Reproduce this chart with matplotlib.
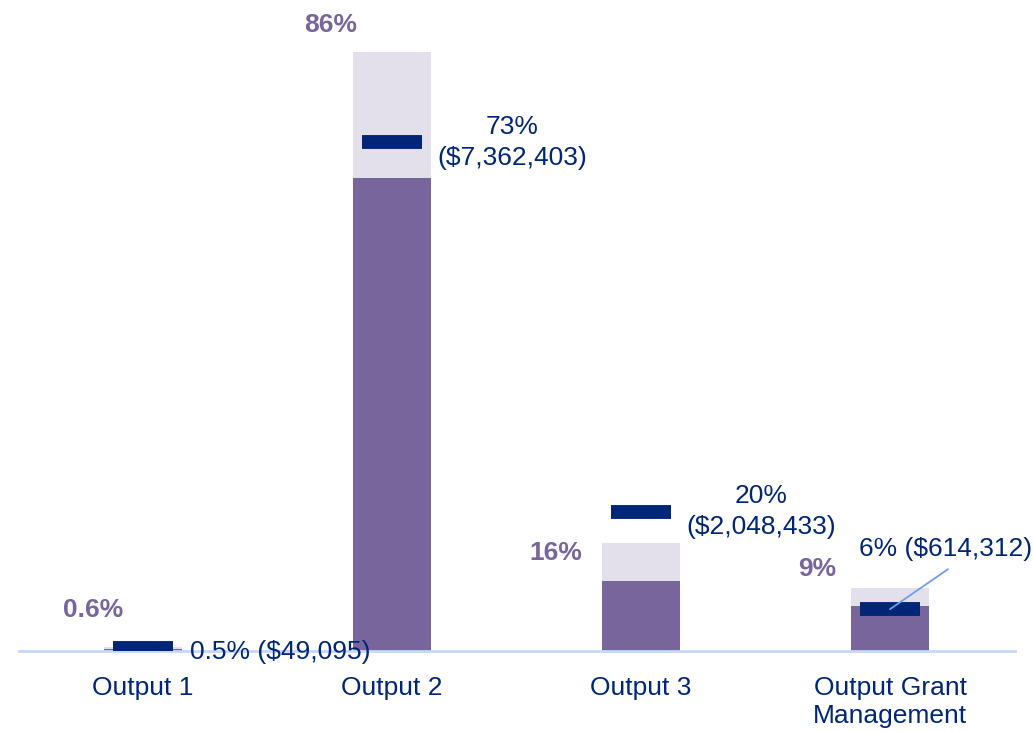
import matplotlib
matplotlib.use("Agg")
import matplotlib.pyplot as plt

plt.rcParams['font.family'] = ['Liberation Sans', 'DejaVu Sans']

# data
categories = ['Output 1', 'Output 2', 'Output 3', 'Output Grant\nManagement']
total_pct = [0.6, 86, 15.5, 9.1]      # light bar, purple bold label
spent_pct = [0.3, 67.9, 10.1, 6.5]    # purple bar
target_pct = [0.5, 73, 20, 6]         # navy marker
total_labels = ['0.6%', '86%', '16%', '9%']
target_labels = ['0.5% ($49,095)', '73%\n($7,362,403)', '20%\n($2,048,433)', '6% ($614,312)']

purple = '#77659c'
light = '#e3e0ec'
navy = '#002677'

fig = plt.figure(figsize=(10.33, 7.31), dpi=100)
ax = fig.add_axes([18.5 / 1033, 80 / 731, 996 / 1033, 651 / 731])

x = list(range(len(categories)))
ax.bar(x, total_pct, width=0.313, color=light, zorder=1)
ax.bar(x, spent_pct, width=0.313, color=purple, zorder=2)
# target markers as short thick horizontal bars
ax.hlines(target_pct, [i - 0.12 for i in x], [i + 0.12 for i in x],
          color=navy, linewidth=10, zorder=4)

ax.set_xlim(-0.5, 3.5)
ax.set_ylim(0, 651 / 6.97)

# purple total labels (offsets in pixels)
total_off = [(-50, 37), (-61, 27), (-85, -10), (-73, 19)]
for i in x:
    ax.annotate(total_labels[i], (i, total_pct[i]), xytext=total_off[i],
                textcoords='offset pixels', ha='center', va='center',
                color=purple, fontsize=19, fontweight='bold')

# navy target labels
ax.annotate(target_labels[0], (0, target_pct[0]), xytext=(47, -4),
            textcoords='offset pixels', ha='left', va='center',
            color=navy, fontsize=19)
ax.annotate(target_labels[1], (1, target_pct[1]), xytext=(120, 0),
            textcoords='offset pixels', ha='center', va='center',
            color=navy, fontsize=19, linespacing=1.35)
ax.annotate(target_labels[2], (2, target_pct[2]), xytext=(120, 0),
            textcoords='offset pixels', ha='center', va='center',
            color=navy, fontsize=19, linespacing=1.35)
ax.annotate(target_labels[3], (3, target_pct[3]), xytext=(56, 60),
            textcoords='offset pixels', ha='center', va='center',
            color=navy, fontsize=19, zorder=5)
ax.annotate('', (3, target_pct[3]), xytext=(58, 40),
            textcoords='offset pixels',
            arrowprops=dict(arrowstyle='-', color='#6d9eeb', lw=1.3,
                            shrinkA=0, shrinkB=0), zorder=5)

ax.set_xticks(x)
ax.set_xticklabels(categories, color=navy, fontsize=19, linespacing=1.2,
                   va='top')
ax.tick_params(axis='x', length=0, pad=18)
ax.set_yticks([])
for s in ['top', 'right', 'left']:
    ax.spines[s].set_visible(False)
ax.spines['bottom'].set_color('#c6d8f7')
ax.spines['bottom'].set_linewidth(2)

fig.savefig('out.png', dpi=100)
